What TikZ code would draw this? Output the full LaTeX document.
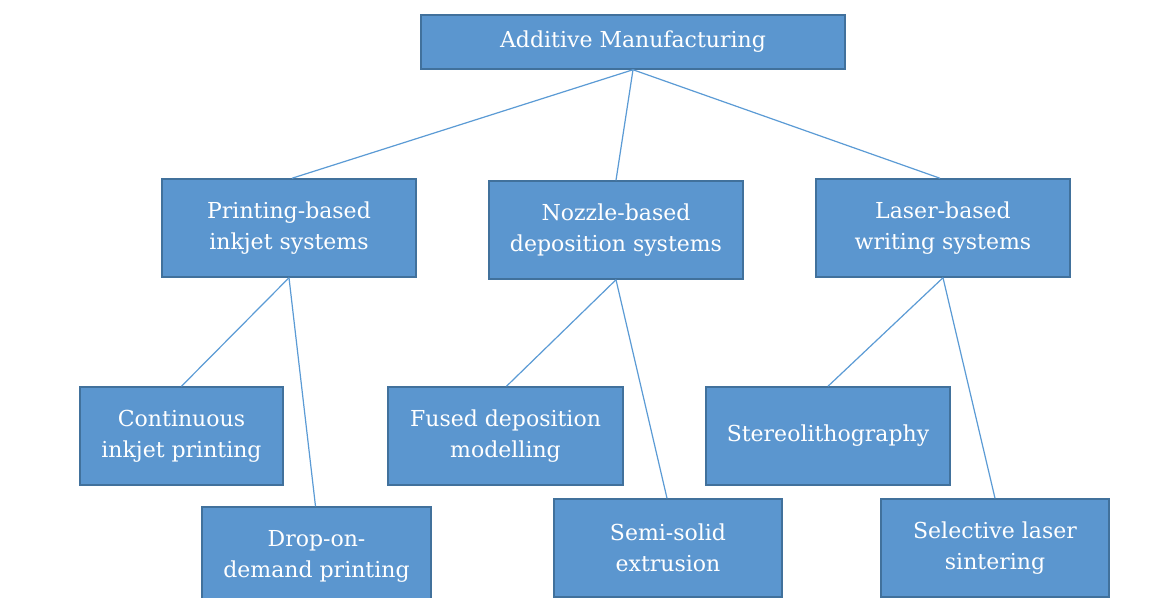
\documentclass[tikz,border=0pt]{standalone}
\usepackage{fontspec}
\setmainfont{DejaVu Serif}
\definecolor{boxfill}{HTML}{5B96CF}
\definecolor{boxdraw}{HTML}{41719C}
\definecolor{linkcol}{HTML}{5B9BD5}
\begin{document}
\begin{tikzpicture}[x=1pt,y=-1pt,
  box/.style={draw=boxdraw,line width=1.5pt,fill=boxfill,text=white,align=center,
    font=\fontsize{22}{31}\selectfont,inner sep=0pt},
  link/.style={draw=linkcol,line width=1.2pt}]
\useasboundingbox (0,0) rectangle (1161,597);
\clip (0,0) rectangle (1161,597);
\fill[white] (0,0) rectangle (1161,597);
\node[box,minimum width=424pt,minimum height=54pt] (am) at (633,42) {Additive Manufacturing};
\node[box,minimum width=254pt,minimum height=98pt] (pb) at (289,228) {Printing-based\\inkjet systems};
\node[box,minimum width=254pt,minimum height=98pt] (nb) at (616,230) {Nozzle-based\\deposition systems};
\node[box,minimum width=254pt,minimum height=98pt] (lb) at (943,228) {Laser-based\\writing systems};
\node[box,minimum width=203pt,minimum height=98pt] (ci) at (181.5,436) {Continuous\\inkjet printing};
\node[box,minimum width=229pt,minimum height=98pt] (dd) at (316.5,556) {Drop-on-\\demand printing};
\node[box,minimum width=235pt,minimum height=98pt] (fd) at (505.5,436) {Fused deposition\\modelling};
\node[box,minimum width=228pt,minimum height=98pt] (ss) at (668,548) {Semi-solid\\extrusion};
\node[box,minimum width=244pt,minimum height=98pt] (st) at (828,436) {Stereolithography};
\node[box,minimum width=228pt,minimum height=98pt] (sl) at (995,548) {Selective laser\\sintering};
\draw[link] (am.south) -- ([xshift=3pt]pb.north);
\draw[link] (am.south) -- (nb.north);
\draw[link] (am.south) -- ([xshift=-3pt]lb.north);
\draw[link] (pb.south) -- (ci.north);
\draw[link] (pb.south) -- ([xshift=-1pt]dd.north);
\draw[link] (nb.south) -- ([xshift=1pt]fd.north);
\draw[link] (nb.south) -- ([xshift=-1pt]ss.north);
\draw[link] (lb.south) -- (st.north);
\draw[link] (lb.south) -- (sl.north);
\end{tikzpicture}
\end{document}
